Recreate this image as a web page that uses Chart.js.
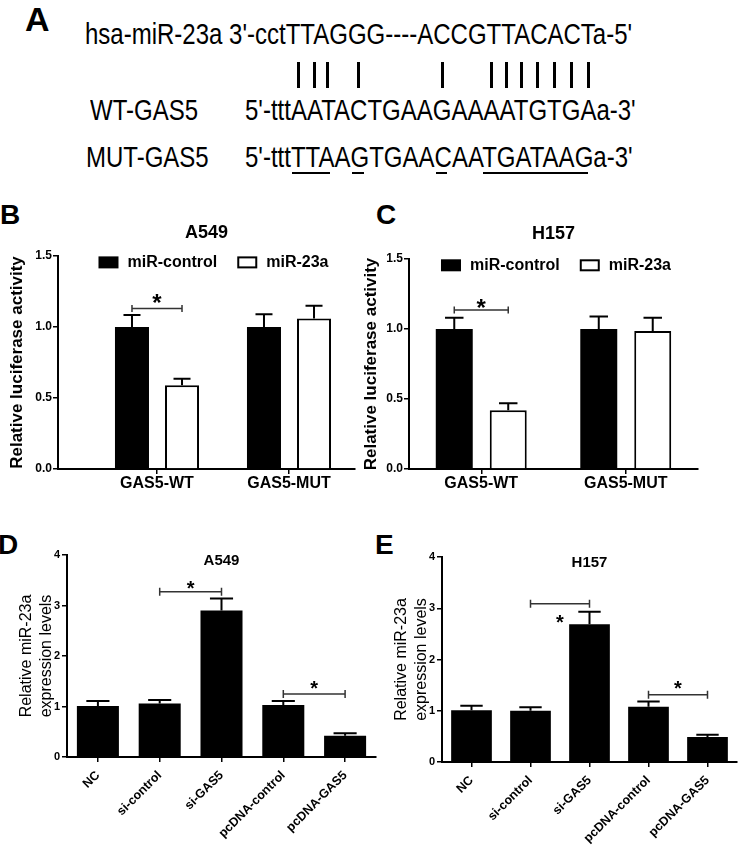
<!DOCTYPE html>
<html>
<head>
<meta charset="utf-8">
<title>GAS5 / miR-23a</title>
<script src="https://cdn.jsdelivr.net/npm/chart.js@4.4.1/dist/chart.umd.min.js"></script>
<style>
  html, body { margin: 0; padding: 0; background: #fff; }
  #fig { position: relative; width: 740px; height: 848px; overflow: hidden;
         font-family: 'Liberation Sans', Arial, Helvetica, sans-serif; color: #000; }
  .tag { position: absolute; font-weight: bold; line-height: 1; }
  .seq { position: absolute; font-size: 30px; line-height: 30px; white-space: pre;
         transform: scaleX(0.8); transform-origin: 0 0; }
  .mark { position: absolute; background: #000; }
  canvas { position: absolute; }
</style>
</head>
<body>
<div id="fig">
  <div class="tag" style="left:25px;top:2px;font-size:34px">A</div>
  <div class="tag" style="left:0;top:201px;font-size:28px">B</div>
  <div class="tag" style="left:376px;top:201px;font-size:28px">C</div>
  <div class="tag" style="left:-2px;top:531px;font-size:28px">D</div>
  <div class="tag" style="left:375px;top:531px;font-size:28px">E</div>

  <div class="seq" id="mirLine" style="left:85px;top:19px"></div>
  <div class="seq" id="wtName" style="left:90px;top:95px"></div>
  <div class="seq" id="wtLine" style="left:245px;top:95px"></div>
  <div class="seq" id="mutName" style="left:86px;top:142px"></div>
  <div class="seq" id="mutLine" style="left:245px;top:142px"></div>

  <canvas id="chartB" width="356" height="285" style="left:0;top:212px"></canvas>
  <canvas id="chartC" width="384" height="285" style="left:356px;top:212px"></canvas>
  <canvas id="chartD" width="378" height="348" style="left:0;top:500px"></canvas>
  <canvas id="chartE" width="362" height="348" style="left:378px;top:500px"></canvas>
</div>

<script>
const FONT = "'Liberation Sans', Arial, Helvetica, sans-serif";
Chart.defaults.font.family = FONT;
Chart.defaults.color = '#000';

// ---- panel A: sequences ----
const mirSeq = ["hsa-miR-23a 3'-cct", 'TTAGGG----ACCGTTACACT', "a-5'"];
const wtName = 'WT-GAS5';
const wtSeq = ["5'-ttt", 'AATACTGAAGAAAATGTGA', "a-3'"];
const mutName = 'MUT-GAS5';
const mutSeq = ["5'-ttt", 'TTAAGTGAACAATGATAAG', "a-3'"];
const pairedAt = [0, 1, 2, 4, 9, 12, 13, 14, 15, 16, 17, 18];
const mutatedRuns = [[0, 2], [4, 4], [9, 9], [12, 18]];

// ---- panels B/C: luciferase ----
const lucGroups = ['GAS5-WT', 'GAS5-MUT'];
const lucSeries = ['miR-control', 'miR-23a'];
const lucTicks = [0, 0.5, 1.0, 1.5];
const a549LucControl = [1.00, 1.00];
const a549LucControlErr = [0.085, 0.09];
const a549Luc23a = [0.59, 1.06];
const a549Luc23aErr = [0.045, 0.09];
const h157LucControl = [1.00, 1.00];
const h157LucControlErr = [0.08, 0.09];
const h157Luc23a = [0.42, 0.985];
const h157Luc23aErr = [0.05, 0.095];

// ---- panels D/E: miR-23a expression ----
const exprGroups = ['NC', 'si-control', 'si-GAS5', 'pcDNA-control', 'pcDNA-GAS5'];
const exprTicks = [0, 1, 2, 3, 4];
const a549Expr = [1.01, 1.06, 2.90, 1.03, 0.42];
const a549ExprErr = [0.10, 0.07, 0.24, 0.08, 0.05];
const h157Expr = [1.01, 1.00, 2.69, 1.08, 0.49];
const h157ExprErr = [0.09, 0.07, 0.24, 0.10, 0.04];

// significance brackets: [dataset, index] of both ends, bracket height, star height
const a549LucSig = [{ from: [0, 0], to: [1, 0], y: 1.13, star: 1.21 }];
const h157LucSig = [{ from: [0, 0], to: [1, 0], y: 1.135, star: 1.19 }];
const a549ExprSig = [
  { from: [0, 1], to: [0, 2], y: 3.27, star: 3.43 },
  { from: [0, 3], to: [0, 4], y: 1.25, star: 1.45 }
];
const h157ExprSig = [
  { from: [0, 1], to: [0, 2], y: 3.09, star: 2.81 },
  { from: [0, 3], to: [0, 4], y: 1.31, star: 1.54 }
];

// ===== panel A =====
function fillSeq(el, parts) {
  el.appendChild(document.createTextNode(parts[0]));
  const spans = [...parts[1]].map(ch => {
    const s = document.createElement('span');
    s.textContent = ch;
    el.appendChild(s);
    return s;
  });
  el.appendChild(document.createTextNode(parts[2]));
  return spans;
}

fillSeq(document.getElementById('mirLine'), mirSeq);
document.getElementById('wtName').textContent = wtName;
document.getElementById('mutName').textContent = mutName;
const wtSpans = fillSeq(document.getElementById('wtLine'), wtSeq);
const mutSpans = fillSeq(document.getElementById('mutLine'), mutSeq);

function drawMarks() {
  const fig = document.getElementById('fig');
  const origin = fig.getBoundingClientRect();
  const span = s => {
    const r = s.getBoundingClientRect();
    return { l: r.left - origin.left, r: r.right - origin.left };
  };
  const mark = (x, y, w, h) => {
    const d = document.createElement('div');
    d.className = 'mark';
    Object.assign(d.style, { left: x + 'px', top: y + 'px', width: w + 'px', height: h + 'px' });
    fig.appendChild(d);
  };
  pairedAt.forEach(i => {
    const b = span(wtSpans[i]);
    mark((b.l + b.r) / 2 - 1.5, 62, 3, 26);
  });
  mutatedRuns.forEach(([a, b]) => {
    const l = span(mutSpans[a]).l + 1;
    const r = span(mutSpans[b]).r - 5;
    mark(l, 171.5, r - l, 2.5);
  });
}
drawMarks();

// ===== chart plugins =====
const errorBars = {
  id: 'errorBars',
  afterDatasetsDraw(chart, args, opts) {
    const ctx = chart.ctx;
    const yScale = chart.scales.y;
    ctx.save();
    ctx.strokeStyle = '#000';
    ctx.lineWidth = opts.width;
    chart.data.datasets.forEach((ds, di) => {
      if (!ds.errors) return;
      const meta = chart.getDatasetMeta(di);
      meta.data.forEach((bar, i) => {
        const v = meta.controller.getParsed(i).y;
        const top = yScale.getPixelForValue(v + ds.errors[i]);
        const half = bar.width * opts.cap / 2;
        ctx.beginPath();
        ctx.moveTo(bar.x, bar.y);
        ctx.lineTo(bar.x, top);
        ctx.moveTo(bar.x - half, top);
        ctx.lineTo(bar.x + half, top);
        ctx.stroke();
      });
    });
    ctx.restore();
  }
};

const sigMarks = {
  id: 'sigMarks',
  afterDatasetsDraw(chart, args, opts) {
    const ctx = chart.ctx;
    const yScale = chart.scales.y;
    ctx.save();
    (opts.items || []).forEach(it => {
      const a = chart.getDatasetMeta(it.from[0]).data[it.from[1]];
      const b = chart.getDatasetMeta(it.to[0]).data[it.to[1]];
      const y = yScale.getPixelForValue(it.y);
      ctx.strokeStyle = '#333';
      ctx.lineWidth = 1.5;
      ctx.beginPath();
      ctx.moveTo(a.x, y); ctx.lineTo(b.x, y);
      ctx.moveTo(a.x, y - opts.tick); ctx.lineTo(a.x, y + opts.tick);
      ctx.moveTo(b.x, y - opts.tick); ctx.lineTo(b.x, y + opts.tick);
      ctx.stroke();
      ctx.fillStyle = '#000';
      ctx.font = `bold ${opts.starSize}px ${FONT}`;
      ctx.textAlign = 'center';
      ctx.textBaseline = 'alphabetic';
      ctx.fillText('*', (a.x + b.x) / 2, yScale.getPixelForValue(it.star) + opts.starSize * 0.575);
    });
    ctx.restore();
  }
};

// legend drawn inside the plot area, like the Prism original
const innerLegend = {
  id: 'innerLegend',
  afterDraw(chart, args, opts) {
    if (!opts.size) return;
    const ctx = chart.ctx;
    const area = chart.chartArea;
    ctx.save();
    ctx.font = `bold ${opts.size}px ${FONT}`;
    const items = chart.data.datasets.map(ds => ({
      label: ds.label, fill: ds.backgroundColor, stroke: ds.borderColor,
      lw: ds.borderWidth, w: ctx.measureText(ds.label).width
    }));
    const total = items.reduce((s, it) => s + opts.boxW + opts.gap + it.w, 0) + opts.spacing * (items.length - 1);
    let x = (area.left + area.right) / 2 - total / 2 + (opts.shift || 0);
    const yc = chart.scales.y.getPixelForValue(opts.y);
    items.forEach(it => {
      ctx.fillStyle = it.fill;
      ctx.fillRect(x, yc - opts.boxH / 2, opts.boxW, opts.boxH);
      if (it.lw) {
        ctx.lineWidth = it.lw;
        ctx.strokeStyle = it.stroke;
        ctx.strokeRect(x + it.lw / 2, yc - opts.boxH / 2 + it.lw / 2, opts.boxW - it.lw, opts.boxH - it.lw);
      }
      ctx.fillStyle = '#000';
      ctx.textAlign = 'left';
      ctx.textBaseline = 'middle';
      ctx.fillText(it.label, x + opts.boxW + opts.gap, yc);
      x += opts.boxW + opts.gap + it.w + opts.spacing;
    });
    ctx.restore();
  }
};

const innerTitle = {
  id: 'innerTitle',
  afterDraw(chart, args, opts) {
    if (!opts.text) return;
    const ctx = chart.ctx;
    const area = chart.chartArea;
    ctx.save();
    ctx.font = `bold ${opts.size}px ${FONT}`;
    ctx.fillStyle = '#000';
    ctx.textAlign = 'center';
    ctx.textBaseline = 'middle';
    ctx.fillText(opts.text, (area.left + area.right) / 2, chart.scales.y.getPixelForValue(opts.y));
    ctx.restore();
  }
};

const blackBars = { backgroundColor: '#000', borderColor: '#000', borderWidth: 0 };
const whiteBars = { backgroundColor: '#fff', borderColor: '#000', borderWidth: 2 };

function axisStyle() {
  return {
    grid: { drawOnChartArea: false, offset: false, tickLength: 5, color: '#000', lineWidth: 1.5 },
    border: { color: '#000', width: 2 }
  };
}

// B / C
function luciferaseChart(id, title, ctrl, ctrlErr, mir, mirErr, sig, lay) {
  const pts = vals => vals.map((v, i) => ({ x: i + 1, y: v }));
  return new Chart(document.getElementById(id), {
    type: 'bar',
    data: {
      datasets: [
        { label: lucSeries[0], data: pts(ctrl), errors: ctrlErr, ...blackBars },
        { label: lucSeries[1], data: pts(mir), errors: mirErr, ...whiteBars }
      ]
    },
    options: {
      responsive: false, animation: false, events: [],
      categoryPercentage: lay.catPct, barPercentage: lay.barPct,
      layout: { padding: { left: 0, right: lay.padRight, top: 0, bottom: 0 } },
      plugins: {
        legend: { display: false },
        tooltip: { enabled: false },
        title: {
          display: true, text: title, fullSize: false, color: '#000',
          font: { size: 18, weight: 'bold' },
          padding: { top: lay.titleTop, bottom: lay.titleBottom }
        },
        innerLegend: { y: 1.455, shift: lay.legendShift, size: 16, boxW: 20, boxH: 12, gap: 9, spacing: 20 },
        errorBars: { cap: 0.5, width: 2 },
        sigMarks: { items: sig, tick: 3.5, starSize: 24 }
      },
      scales: {
        x: {
          type: 'linear', min: lay.xMin, max: lay.xMax, offset: false, ...axisStyle(),
          afterBuildTicks: s => { s.ticks = lucGroups.map((g, i) => ({ value: i + 1 })); },
          afterFit: s => { s.height = 28; },
          ticks: {
            autoSkip: false, maxRotation: 0, padding: 0, color: '#000',
            font: { size: 16, weight: 'bold' },
            callback: v => lucGroups[v - 1]
          }
        },
        y: {
          min: 0, max: 1.5, ...axisStyle(),
          afterBuildTicks: s => { s.ticks = lucTicks.map(v => ({ value: v })); },
          afterFit: s => { s.width = lay.yWidth; },
          ticks: { padding: 1, color: '#000', font: { size: 12, weight: 'bold' }, callback: v => v.toFixed(1) },
          title: {
            display: true, text: 'Relative luciferase activity', color: '#000',
            font: { size: 17, weight: 'bold' }, padding: { top: lay.yTitlePad, bottom: 0 }
          }
        }
      }
    },
    plugins: [errorBars, sigMarks, innerLegend]
  });
}

// D / E
function expressionChart(id, title, vals, errs, sig, lay) {
  return new Chart(document.getElementById(id), {
    type: 'bar',
    data: { labels: exprGroups, datasets: [{ label: title, data: vals, errors: errs, ...blackBars }] },
    options: {
      responsive: false, animation: false, events: [],
      categoryPercentage: 1, barPercentage: lay.barPct,
      layout: { padding: { left: 0, right: lay.padRight, top: lay.padTop, bottom: 0 } },
      plugins: {
        legend: { display: false },
        tooltip: { enabled: false },
        innerTitle: { text: title, y: 3.88, size: 15 },
        errorBars: { cap: 0.55, width: 2 },
        sigMarks: { items: sig, tick: 4, starSize: 20 }
      },
      scales: {
        x: {
          ...axisStyle(),
          afterFit: s => { s.height = lay.xHeight; },
          ticks: {
            autoSkip: false, minRotation: 45, maxRotation: 45, padding: 6, color: '#000',
            font: { size: 12.5, weight: 'bold' }
          }
        },
        y: {
          min: 0, max: 4, ...axisStyle(),
          afterBuildTicks: s => { s.ticks = exprTicks.map(v => ({ value: v })); },
          afterFit: s => { s.width = lay.yWidth; },
          ticks: { padding: 2, color: '#000', font: { size: 11, weight: 'bold' } },
          title: {
            display: true, text: ['Relative miR-23a', 'expression levels'], color: '#000',
            font: { size: 16, lineHeight: 1.25 }, padding: { top: lay.yTitlePad, bottom: 0 }
          }
        }
      }
    },
    plugins: [errorBars, sigMarks, innerTitle]
  });
}

luciferaseChart('chartB', 'A549', a549LucControl, a549LucControlErr, a549Luc23a, a549Luc23aErr, a549LucSig, {
  xMin: 0.25, xMax: 2.5, catPct: 0.758, barPct: 0.68, padRight: 1, yWidth: 58,
  yTitlePad: 7.3, titleTop: 10.7, titleBottom: 11.7, legendShift: 7
});
luciferaseChart('chartC', 'H157', h157LucControl, h157LucControlErr, h157Luc23a, h157Luc23aErr, h157LucSig, {
  xMin: 0.5, xMax: 2.5, catPct: 0.747, barPct: 0.685, padRight: 42, yWidth: 53,
  yTitlePad: 4.8, titleTop: 11.7, titleBottom: 13.7, legendShift: 2.5
});
expressionChart('chartD', 'A549', a549Expr, a549ExprErr, a549ExprSig, {
  barPct: 0.68, padRight: 2, padTop: 55, yWidth: 67, xHeight: 91, yTitlePad: 17
});
expressionChart('chartE', 'H157', h157Expr, h157ExprErr, h157ExprSig, {
  barPct: 0.69, padRight: 3, padTop: 57, yWidth: 64, xHeight: 86, yTitlePad: 14
});
</script>
</body>
</html>
